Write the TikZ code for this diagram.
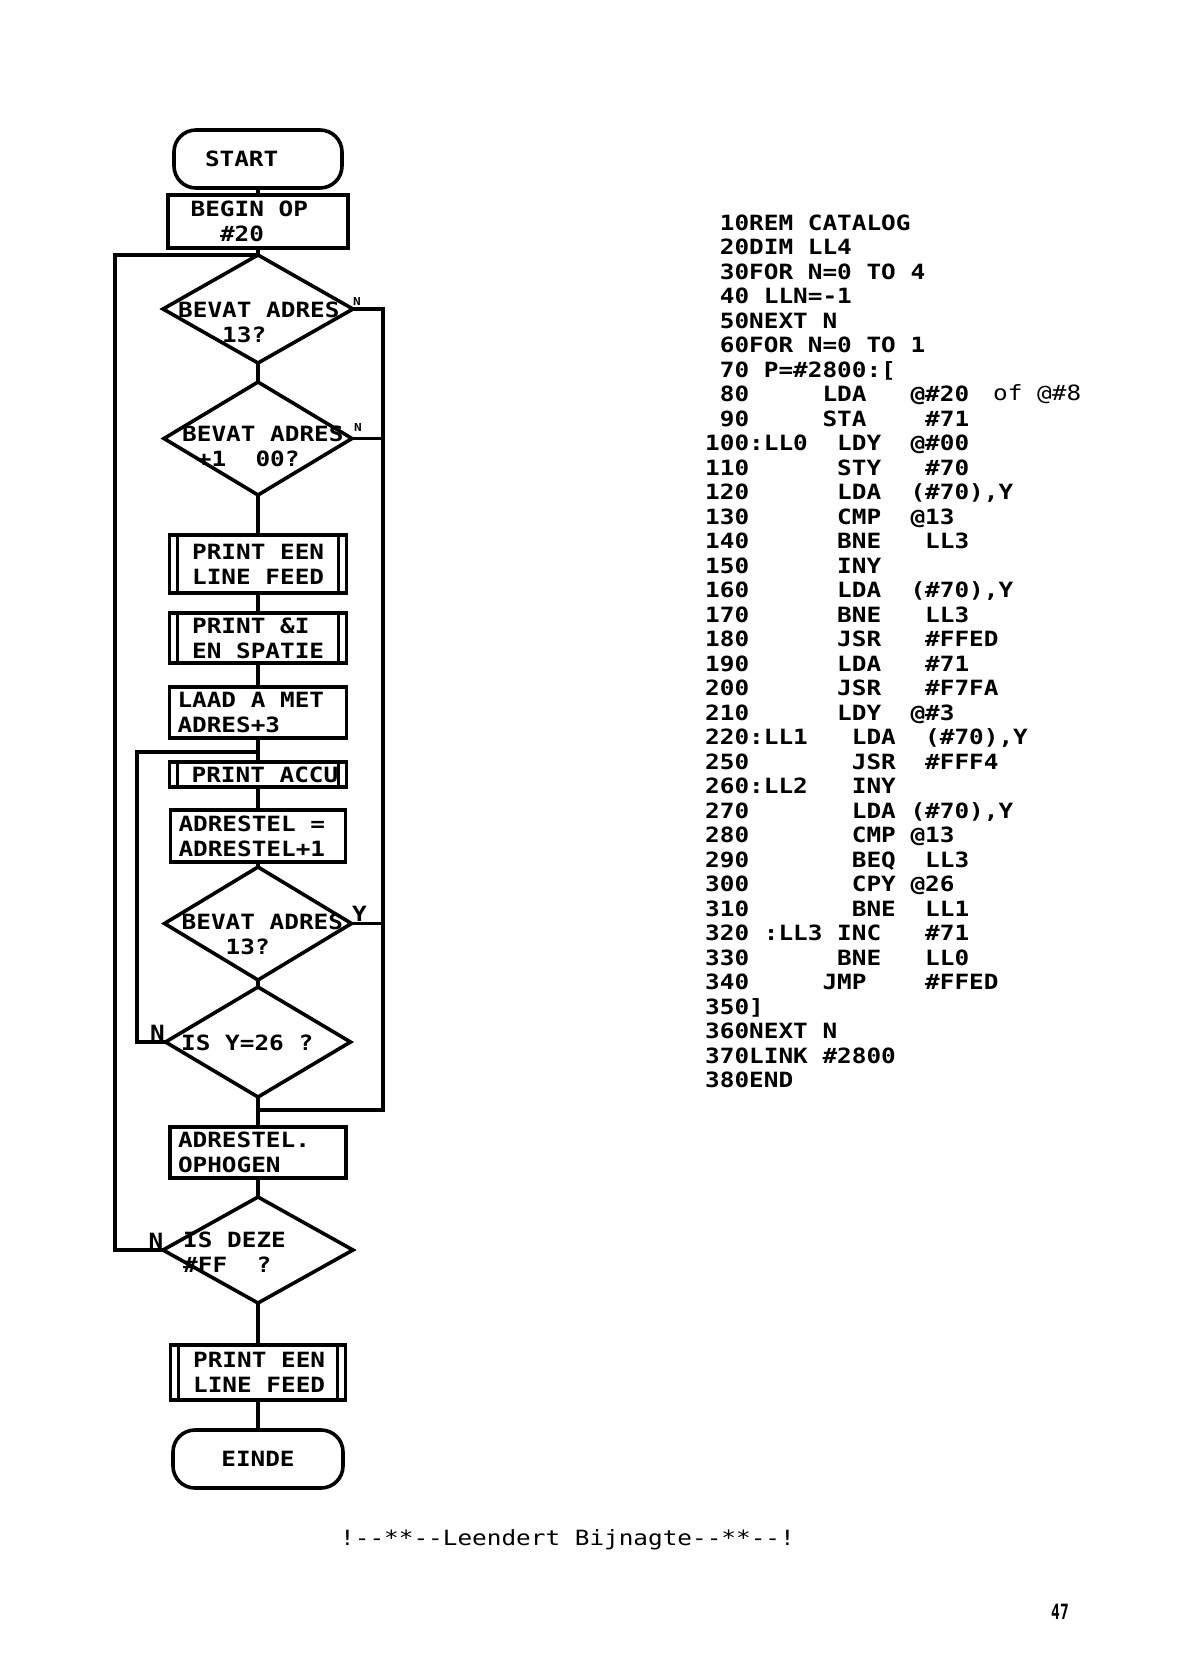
\documentclass[tikz,border=0pt]{standalone}
\usepackage{fontspec}
\setmonofont[FakeStretch=1.16]{DejaVu Sans Mono}
\usepackage{graphicx}
\usepackage{tikz}
\usetikzlibrary{shapes.geometric, positioning, calc}
\newcommand{\flowfont}{\fontsize{21}{25}\selectfont\ttfamily\bfseries}
\newcommand{\tagfont}{\fontsize{11}{12}\selectfont\ttfamily\bfseries}
\newcommand{\footfont}{\fontsize{21}{25}\selectfont\ttfamily}
\tikzset{flow/.style={line width=3.6pt},
	box/.style={draw, rectangle, line width=3.6pt, inner xsep=8pt, inner ysep=0pt, outer sep=0pt, align=left, font=\flowfont,
		execute at begin node={\spaceskip=0pt\xspaceskip=0pt\relax}},
	subproc/.style={box, path picture={
		\draw[line width=3pt] ([xshift=8pt]path picture bounding box.north west) -- ([xshift=8pt]path picture bounding box.south west);
		\draw[line width=3pt] ([xshift=-8pt]path picture bounding box.north east) -- ([xshift=-8pt]path picture bounding box.south east);}},
	term/.style={box, rounded corners=22pt},
	decision/.style={draw, diamond, line width=3.6pt, inner sep=0pt, outer sep=0pt},
	dtext/.style={anchor=west, inner sep=0pt, align=left, font=\flowfont},
	code/.style={anchor=base west, inner sep=0pt, font=\flowfont},
	tag/.style={inner sep=0pt, font=\flowfont}}

\begin{document}
\begin{tikzpicture}[x=1pt, y=-1pt]

	\fill[white] (0,0) rectangle (1186,1676);

	% flowchart
	\node[term, minimum height=58pt, inner xsep=31pt, text width=106pt] (start) at (258,159) {START};
	\node[box, text width=164pt, minimum height=53pt] (begin) at (258,221.5) {~BEGIN~OP\\~~~\#20};
	\node[decision, minimum width=190pt, minimum height=108pt] (d1) at (258,309) {};
	\node[decision, minimum width=188pt, minimum height=113pt] (d2) at (258,438.5) {};
	\node[subproc, text width=161pt, minimum height=58pt] (feed1) at (258,564) {~PRINT~EEN\\~LINE~FEED};
	\node[subproc, text width=161pt, minimum height=50pt] (spatie) at (258,638) {~PRINT~\&I\\~EN~SPATIE};
	\node[box, text width=161pt, minimum height=51pt] (laad) at (258,712.5) {LAAD~A~MET\\ADRES+3};
	\node[subproc, text width=162pt, inner xsep=7.5pt, minimum height=25pt] (accu) at (258,774.5) {~PRINT~ACCU};
	\node[box, text width=159pt, minimum height=52pt] (adres) at (258,836) {ADRESTEL~=\\ADRESTEL+1};
	\node[decision, minimum width=187pt, minimum height=113pt] (d3) at (258,923.5) {};
	\node[decision, minimum width=185pt, minimum height=110pt] (d4) at (258,1042) {};
	\node[box, text width=160pt, minimum height=51pt] (hoog) at (258,1152.5) {ADRESTEL.\\OPHOGEN};
	\node[decision, minimum width=190pt, minimum height=106pt] (d5) at (258,1250) {};
	\node[subproc, text width=159pt, minimum height=55pt] (feed2) at (258,1372.5) {~PRINT~EEN\\~LINE~FEED};
	\node[term, align=center, text width=154pt, minimum height=58pt] (einde) at (258,1459) {EINDE};

	\node[dtext] (d1t) at (178,322.5) {BEVAT~ADRES\\~~~13?};
	\node[dtext] (d2t) at (182,446) {BEVAT~ADRES\\~+1~~00?};
	\node[dtext] (d3t) at (181.5,934.5) {BEVAT~ADRES\\~~~13?};
	\node[dtext] (d4t) at (181,1043) {IS~Y=26~?};
	\node[dtext] (d5t) at (183,1252.5) {IS~DEZE\\\#FF~~?};

	\draw[flow] (start) -- (begin);
	\draw[flow] (begin) -- (d1);
	\draw[flow] (d1) -- (d2);
	\draw[flow] (d2) -- (feed1);
	\draw[flow] (feed1) -- (spatie);
	\draw[flow] (spatie) -- (laad);
	\draw[flow] (laad) -- (accu);
	\draw[flow] (accu) -- (adres);
	\draw[flow] (adres) -- (d3);
	\draw[flow] (d3) -- (d4);
	\draw[flow] (d4) -- (hoog);
	\draw[flow] (hoog) -- (d5);
	\draw[flow] (d5) -- (feed2);
	\draw[flow] (feed2) -- (einde);

	% loops
	\coordinate (rjoin) at (383,1110);
	\coordinate (ljoin) at (137,752);
	\coordinate (ojoin) at (115,255);
	\draw[flow] (d1.east) -| (rjoin) -- (rjoin -| hoog.north);
	\draw[flow] (d2.east) -- (d2.east -| rjoin);
	\draw[flow] (d3.east) -- (d3.east -| rjoin);
	\draw[flow] (d4.west) -| (ljoin) -- (ljoin -| accu.north);
	\draw[flow] (d5.west) -| (ojoin) -- (d1.north);

	\node[tag, font=\tagfont] (n1) at ([xshift=4pt,yshift=8pt]d1.east) {N};
	\node[tag, font=\tagfont] (n2) at ([xshift=6pt,yshift=11pt]d2.east) {N};
	\node[tag] (y3) at ([xshift=8pt,yshift=10pt]d3.east) {Y};
	\node[tag] (n4) at ([xshift=-8pt,yshift=9pt]d4.west) {N};
	\node[tag] (n5) at ([xshift=-7pt,yshift=9pt]d5.west) {N};

	% listing
	\node[code] (l10) at (705,230) {~10REM~CATALOG};
	\node[code] (l20) at (705,254.5) {~20DIM~LL4};
	\node[code] (l30) at (705,279) {~30FOR~N=0~TO~4};
	\node[code] (l40) at (705,303.5) {~40~LLN=-1};
	\node[code] (l50) at (705,328) {~50NEXT~N};
	\node[code] (l60) at (705,352.5) {~60FOR~N=0~TO~1};
	\node[code] (l70) at (705,377) {~70~P=\#2800:[};
	\node[code] (l80) at (705,401.5) {~80~~~~~LDA~~~@\#20};
	\node[code] (l90) at (705,426) {~90~~~~~STA~~~~\#71};
	\node[code] (l100) at (705,450.5) {100:LL0~~LDY~~@\#00};
	\node[code] (l110) at (705,475) {110~~~~~~STY~~~\#70};
	\node[code] (l120) at (705,499.5) {120~~~~~~LDA~~(\#70),Y};
	\node[code] (l130) at (705,524) {130~~~~~~CMP~~@13};
	\node[code] (l140) at (705,548.5) {140~~~~~~BNE~~~LL3};
	\node[code] (l150) at (705,573) {150~~~~~~INY};
	\node[code] (l160) at (705,597.5) {160~~~~~~LDA~~(\#70),Y};
	\node[code] (l170) at (705,622) {170~~~~~~BNE~~~LL3};
	\node[code] (l180) at (705,646.5) {180~~~~~~JSR~~~\#FFED};
	\node[code] (l190) at (705,671) {190~~~~~~LDA~~~\#71};
	\node[code] (l200) at (705,695.5) {200~~~~~~JSR~~~\#F7FA};
	\node[code] (l210) at (705,720) {210~~~~~~LDY~~@\#3};
	\node[code] (l220) at (705,744.5) {220:LL1~~~LDA~~(\#70),Y};
	\node[code] (l250) at (705,769) {250~~~~~~~JSR~~\#FFF4};
	\node[code] (l260) at (705,793.5) {260:LL2~~~INY};
	\node[code] (l270) at (705,818) {270~~~~~~~LDA~(\#70),Y};
	\node[code] (l280) at (705,842.5) {280~~~~~~~CMP~@13};
	\node[code] (l290) at (705,867) {290~~~~~~~BEQ~~LL3};
	\node[code] (l300) at (705,891.5) {300~~~~~~~CPY~@26};
	\node[code] (l310) at (705,916) {310~~~~~~~BNE~~LL1};
	\node[code] (l320) at (705,940.5) {320~:LL3~INC~~~\#71};
	\node[code] (l330) at (705,965) {330~~~~~~BNE~~~LL0};
	\node[code] (l340) at (705,989.5) {340~~~~~JMP~~~~\#FFED};
	\node[code] (l350) at (705,1014) {350]};
	\node[code] (l360) at (705,1038.5) {360NEXT~N};
	\node[code] (l370) at (705,1063) {370LINK~\#2800};
	\node[code] (l380) at (705,1087.5) {380END};

	\node[code, font=\footfont] (note) at (993,400) {of~@\#8};

	\node[code, font=\footfont] (sign) at (340,1545) {!-{}-**-{}-Leendert~Bijnagte-{}-**-{}-!};
	\node[code] (page) at (1051,1619) {\scalebox{0.6}[1]{47}};

\end{tikzpicture}
\end{document}
